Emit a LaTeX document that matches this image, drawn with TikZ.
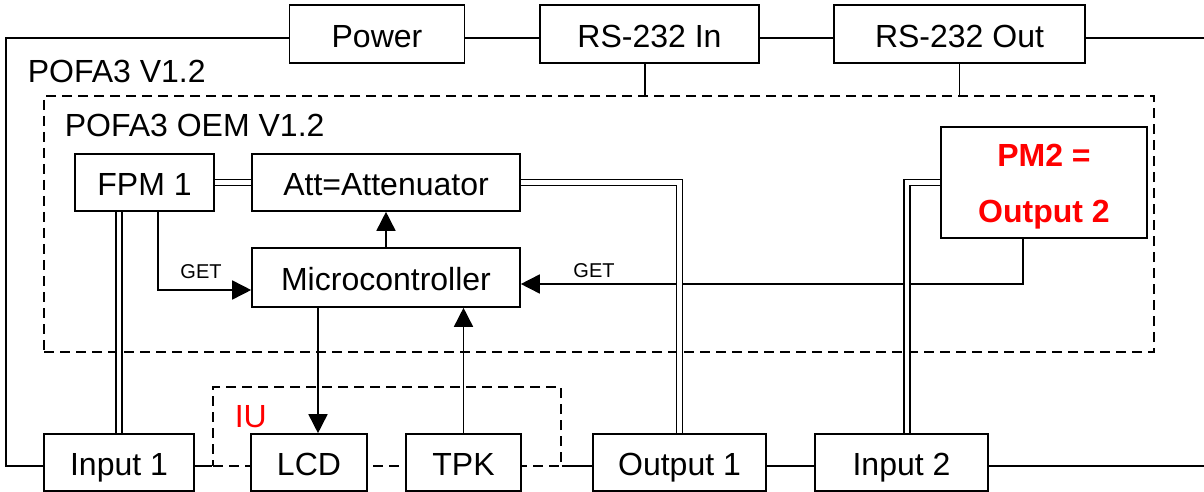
\documentclass[tikz,border=0pt]{standalone}
\usepackage{fontspec}
\setmainfont{Liberation Sans}
\usepackage{tikz}
\usetikzlibrary{arrows.meta,positioning,calc}

\begin{document}
\begin{tikzpicture}[x=0.5pt, y=-0.5pt, line width=0.8pt, >={Triangle[length=9.5pt,width=9.5pt]}]
    \tikzstyle{box} = [rectangle, draw=black, fill=white, inner sep=0pt, minimum height=28.5pt, font=\fontsize{16}{18}\selectfont]
    \tikzstyle{block} = [box, text height=13.4pt, text depth=0pt]
    \tikzstyle{frame} = [rectangle, draw=black, dash pattern=on 5pt off 3pt, inner sep=0pt]
    \tikzstyle{caption} = [inner sep=0pt, anchor=west, font=\fontsize{16}{18}\selectfont]
    \tikzstyle{tag} = [inner sep=0pt, font=\fontsize{10}{12}\selectfont]
    \tikzstyle{fibre} = [draw, double=white, double distance=2.2pt]
    \tikzstyle{arrow} = [draw, ->]

    \useasboundingbox (0,0) rectangle (1204,492);

    % Frames
    \node [frame, minimum width=555pt, minimum height=128pt] (oem) at (599,224) {};
    \node [frame, minimum width=174pt, minimum height=39.5pt] (iu) at (387,426.5) {};

    % Nodes
    \node [block, minimum width=87.5pt, minimum height=29pt] (power) at (377,34) {Power};
    \node [block, minimum width=109.5pt, minimum height=29pt] (rsin) at (649.5,34) {RS-232 In};
    \node [block, minimum width=125.5pt, minimum height=29pt] (rsout) at (959.5,34) {RS-232 Out};
    \node [block, minimum width=69.5pt] (fpm) at (144.5,182.5) {FPM 1};
    \node [block, minimum width=134pt] (att) at (386,182.5) {Att=Attenuator};
    \node [block, minimum width=134pt, minimum height=29.5pt] (micro) at (386,277.5) {Microcontroller};
    \node [box, minimum width=103pt, minimum height=55.5pt, text=red, align=center, font=\fontsize{16}{28}\selectfont\bfseries] (pm2) at (1044,182.5) {\rule{0pt}{15.5pt}PM2 =\\Output 2};
    \node [block, minimum width=75pt] (in1) at (119,462.5) {Input 1};
    \node [block, minimum width=58pt] (lcd) at (309,462.5) {LCD};
    \node [block, minimum width=57.5pt] (tpk) at (463.5,462.5) {TPK};
    \node [block, minimum width=86.5pt] (out1) at (679.5,462.5) {Output 1};
    \node [block, minimum width=86.5pt] (in2) at (901.5,462.5) {Input 2};

    % Titles
    \node [caption] (pofa) at (27,71) {POFA3 V1.2};
    \node [caption] (oemtitle) at (64,125.5) {POFA3 OEM V1.2};
    \node [caption, text=red] (iutitle) at (234,417) {IU};
    \node [tag] (get1) at (201,272) {GET};
    \node [tag] (get2) at (594,271) {GET};

    % Bus
    \coordinate (tl) at (6,38);
    \coordinate (bl) at (6,466);
    \coordinate (tr) at (1204,38);
    \coordinate (br) at (1204,466);
    \draw (bl -| in1.west) -- (bl) -- (tl) -- (tl -| power.west);
    \draw (tl -| power.east) -- (tl -| rsin.west);
    \draw (tl -| rsin.east) -- (tl -| rsout.west);
    \draw (tl -| rsout.east) -- (tr);
    \coordinate (rs1) at ($(rsin.south)+(-4.5,0)$);
    \draw (rs1) -- (rs1 |- oem.north);
    \draw (rsout.south) -- (rsout.south |- oem.north);
    \draw (bl -| in1.east) -- (bl -| iu.west);
    \draw (bl -| iu.east) -- (bl -| out1.west);
    \draw (bl -| out1.east) -- (bl -| in2.west);
    \draw (bl -| in2.east) -- (br);

    % Control
    \draw [arrow] ($(fpm.south)+(13.5,0)$) |- ($(micro.west)+(0,12.5)$);
    \draw [arrow] ($(pm2.south)+(-21,0)$) |- ($(micro.east)+(0,6.5)$);
    \draw [arrow] (micro.north) -- (att.south);
    \coordinate (m1) at ($(micro.south)+(-68,0)$);
    \draw [arrow] (m1) -- (m1 |- lcd.north);
    \draw [arrow] (tpk.north) -- (tpk.north |- micro.south);

    % Fibres
    \draw [fibre] (fpm.east) -- (att.west);
    \draw [fibre] (in1.north) -- (in1.north |- fpm.south);
    \draw [fibre] (att.east) -| (out1.north);
    \coordinate (p2) at ($(in2.north)+(5.5,0)$);
    \draw [fibre] (pm2.west) -| (p2);
\end{tikzpicture}
\end{document}
